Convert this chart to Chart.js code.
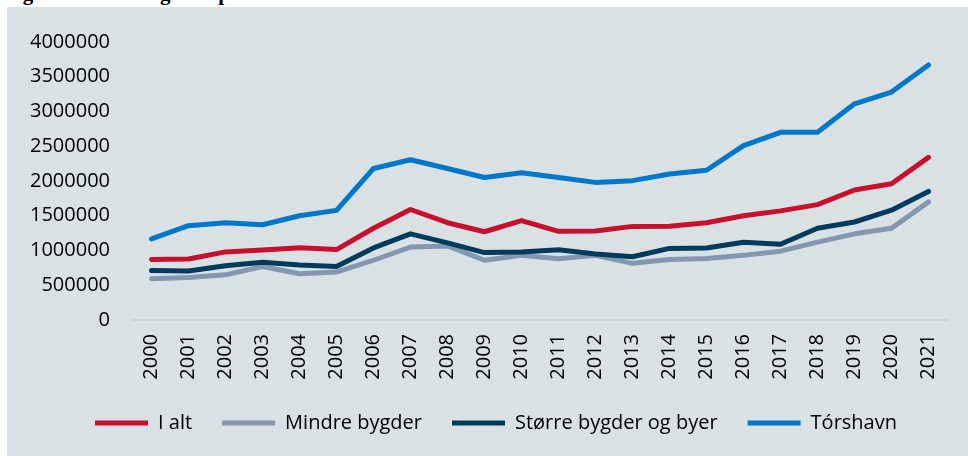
<!DOCTYPE html>
<html>
<head>
<meta charset="utf-8">
<script src="https://cdn.jsdelivr.net/npm/chart.js@4"></script>
<style>
  html, body { margin: 0; padding: 0; width: 968px; height: 456px; overflow: hidden; background: #fff; }
  #title { position: absolute; left: 4px; top: -19px; font: bold 21px "Liberation Serif", serif; white-space: nowrap; color: #000; }
  #box { position: absolute; left: 7px; top: 7px; width: 978px; height: 449px; background: #d9e1e4; }
  canvas { position: absolute; left: 0; top: 0; }
</style>
</head>
<body>
<div id="title">Figur 7: Udvikling i huspriser</div>
<div id="box"><canvas id="chart" width="978" height="449"></canvas></div>
<script>
// Years on the x axis
const years = ['2000', '2001', '2002', '2003', '2004', '2005', '2006', '2007', '2008', '2009', '2010',
  '2011', '2012', '2013', '2014', '2015', '2016', '2017', '2018', '2019', '2020', '2021'];

// Series values
const iAlt = [872000, 877000, 980000, 1008000, 1040000, 1013000, 1320000, 1590000, 1400000, 1270000, 1430000,
  1276000, 1280000, 1347000, 1350000, 1400000, 1500000, 1570000, 1660000, 1870000, 1960000, 2340000];
const mindreBygder = [595000, 610000, 650000, 770000, 665000, 690000, 860000, 1050000, 1065000, 860000, 930000,
  880000, 930000, 815000, 870000, 885000, 930000, 990000, 1120000, 1240000, 1320000, 1700000];
const storreBygder = [712000, 705000, 780000, 830000, 790000, 770000, 1037000, 1240000, 1110000, 970000, 980000,
  1010000, 950000, 910000, 1030000, 1037000, 1120000, 1090000, 1320000, 1410000, 1580000, 1850000];
const torshavn = [1168000, 1357000, 1400000, 1370000, 1500000, 1577000, 2180000, 2306000, 2180000, 2050000, 2120000,
  2050000, 1980000, 2005000, 2100000, 2155000, 2510000, 2700000, 2700000, 3110000, 3280000, 3670000];

const seriesNames = ['I alt', 'Mindre bygder', 'Større bygder og byer', 'Tórshavn'];
const seriesColors = ['#c8102e', '#8497b0', '#003a5c', '#0077c8'];

// Y axis range
const yMin = 0;
const yMax = 4000000;
const yStep = 500000;

const font = { family: '"Open Sans", sans-serif', size: 20 };

function makeSet(i, values) {
  return {
    label: seriesNames[i],
    data: values,
    borderColor: seriesColors[i],
    backgroundColor: seriesColors[i],
    borderWidth: 5,
    borderCapStyle: 'round',
    borderJoinStyle: 'round',
    pointRadius: 0,
    tension: 0,
    fill: false,
    order: 4 - i // later series drawn on top, like the original
  };
}

const ctx = document.getElementById('chart').getContext('2d');
new Chart(ctx, {
  type: 'line',
  data: {
    labels: years,
    datasets: [
      makeSet(0, iAlt),
      makeSet(1, mindreBygder),
      makeSet(2, storreBygder),
      makeSet(3, torshavn)
    ]
  },
  options: {
    responsive: false,
    animation: false,
    layout: { padding: { left: 0, right: 0, top: 29, bottom: 13 } },
    plugins: {
      tooltip: { enabled: false },
      legend: {
        position: 'bottom',
        align: 'center',
        labels: {
          usePointStyle: true,
          pointStyle: 'line',
          pointStyleWidth: 53,
          padding: 30,
          color: '#000',
          font: font,
          sort: (a, b) => a.datasetIndex - b.datasetIndex
        }
      }
    },
    scales: {
      x: {
        offset: true,
        grid: { display: false, drawTicks: false },
        border: { display: true, color: '#cdd3d6', width: 2 },
        ticks: { minRotation: 90, maxRotation: 90, padding: 14, color: '#000', font: font, autoSkip: false },
        afterFit: s => { s.height = 63; }
      },
      y: {
        min: yMin,
        max: yMax,
        grid: { display: false, drawTicks: false },
        border: { display: false },
        ticks: { stepSize: yStep, padding: 23, color: '#000', font: font, callback: v => String(v) },
        afterFit: s => { s.width = 126; }
      },
      // empty right-hand spacer so the plot stops where the original does
      spacer: {
        type: 'linear',
        position: 'right',
        display: true,
        grid: { display: false, drawTicks: false },
        border: { display: false },
        ticks: { display: false },
        afterFit: s => { s.width = 38; }
      }
    }
  }
});
</script>
</body>
</html>
